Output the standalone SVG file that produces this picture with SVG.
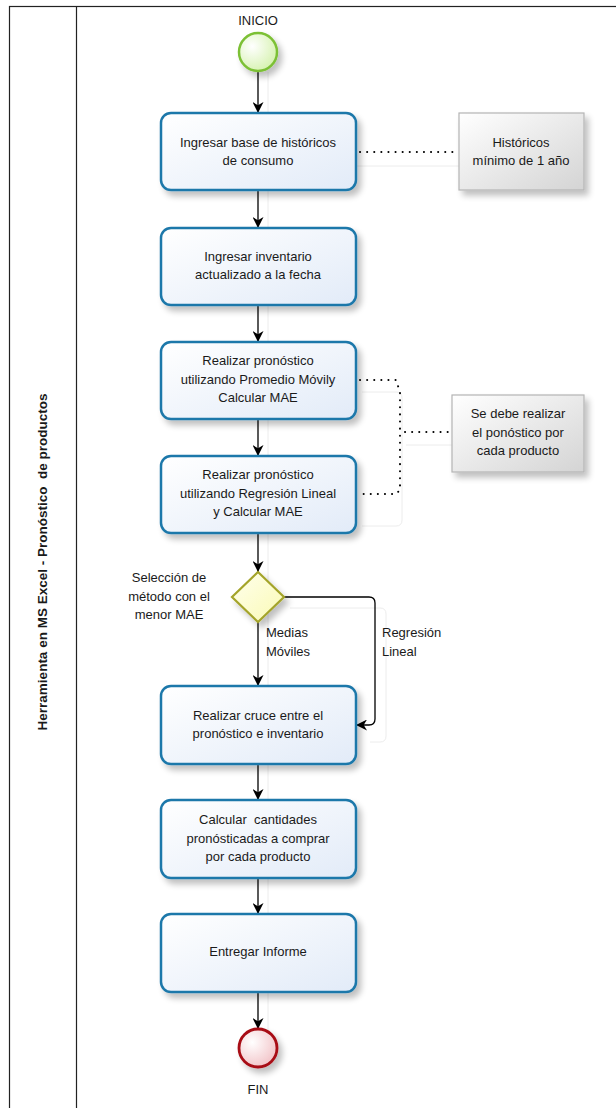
<svg xmlns="http://www.w3.org/2000/svg" width="616" height="1108" viewBox="0 0 616 1108">
  <defs>
    <linearGradient id="taskFill" x1="0" y1="0" x2="1" y2="1">
      <stop offset="0" stop-color="#ffffff"/>
      <stop offset="1" stop-color="#e2ebf8"/>
    </linearGradient>
    <linearGradient id="noteFill" x1="0" y1="0" x2="1" y2="1">
      <stop offset="0" stop-color="#ffffff"/>
      <stop offset="1" stop-color="#d4d4d4"/>
    </linearGradient>
    <radialGradient id="startFill" cx="0.35" cy="0.35" r="0.7">
      <stop offset="0" stop-color="#ffffff"/>
      <stop offset="1" stop-color="#d6f2b0"/>
    </radialGradient>
    <radialGradient id="endFill" cx="0.35" cy="0.35" r="0.7">
      <stop offset="0" stop-color="#ffffff"/>
      <stop offset="1" stop-color="#f2c4c8"/>
    </radialGradient>
    <linearGradient id="gateFill" x1="0" y1="0" x2="1" y2="1">
      <stop offset="0" stop-color="#ffffee"/>
      <stop offset="1" stop-color="#fafab4"/>
    </linearGradient>
    <filter id="shadow" x="-20%" y="-20%" width="150%" height="160%">
      <feGaussianBlur in="SourceAlpha" stdDeviation="3"/>
      <feOffset dx="4" dy="5" result="b"/>
      <feComponentTransfer><feFuncA type="linear" slope="0.25"/></feComponentTransfer>
      <feMerge><feMergeNode/><feMergeNode in="SourceGraphic"/></feMerge>
    </filter>
    <marker id="arrow" viewBox="0 0 10 10" refX="10" refY="5" markerWidth="11" markerHeight="11" markerUnits="userSpaceOnUse" orient="auto">
      <path d="M0,0 L10,5 L0,10 L3,5 Z" fill="#000"/>
    </marker>
  </defs>
  <style>
    .lbl { font-family: "Liberation Sans", Arial, sans-serif; font-size: 13px; fill: #1a1a1a; text-anchor: middle; white-space: pre; }
    .lft { text-anchor: start; }
    .task { fill: url(#taskFill); stroke: #1f78aa; stroke-width: 2.5; filter: url(#shadow); }
    .note { fill: url(#noteFill); stroke: #b4b4b4; stroke-width: 1.2; filter: url(#shadow); }
    .flow { fill: none; stroke: #000; stroke-width: 1.3; marker-end: url(#arrow); }
    .assoc { fill: none; stroke: #000; stroke-width: 2; stroke-dasharray: 0.1 7; stroke-linecap: round; }
    .ghost { fill: none; stroke: #ececec; stroke-width: 1; }
  </style>

  <!-- pool and lane -->
  <g id="pool">
    <rect x="9.5" y="6.5" width="700" height="1200" fill="#fff" stroke="#222" stroke-width="1.2"/>
    <line x1="76.5" y1="6.5" x2="76.5" y2="1108" stroke="#222" stroke-width="1.2"/>
    <text class="lbl" xml:space="preserve" transform="translate(47,562) rotate(-90)" style="font-weight:bold;font-size:13.5px">Herramienta en MS Excel - Pronóstico  de productos</text>
  </g>

  <!-- faint guide lines -->
  <g id="guides">
    <line class="ghost" x1="268" y1="72" x2="268" y2="1030"/>
    <path class="ghost" d="M356,166 H459"/>
    <path class="ghost" d="M362,392 H396 Q402,392 402,398 V520 Q402,526 396,526 H362"/>
    <path class="ghost" d="M406,445 H452"/>
    <path class="ghost" d="M290,608 H380 Q386,608 386,614 V736 Q386,742 380,742 H370"/>
  </g>

  <!-- connectors -->
  <g id="connectors">
    <line class="flow" x1="258" y1="71" x2="258" y2="113"/>
    <line class="flow" x1="258" y1="190" x2="258" y2="228"/>
    <line class="flow" x1="258" y1="305" x2="258" y2="342"/>
    <line class="flow" x1="258" y1="419" x2="258" y2="456"/>
    <line class="flow" x1="258" y1="533" x2="258" y2="572"/>
    <line class="flow" x1="258" y1="622" x2="258" y2="686"/>
    <path class="flow" d="M284,597 H369 Q375,597 375,603 V719 Q375,725 369,725 H356"/>
    <line class="flow" x1="258" y1="764" x2="258" y2="800"/>
    <line class="flow" x1="258" y1="878" x2="258" y2="914"/>
    <line class="flow" x1="258" y1="992" x2="258" y2="1029"/>
    <path class="assoc" d="M360,152 H455"/>
    <path class="assoc" d="M360,380 H396 L400,392 V490 L396,494 H360"/>
    <path class="assoc" d="M405,432 H450"/>
    <text class="lbl lft" x="266" y="637">Medias</text>
    <text class="lbl lft" x="266" y="656">Móviles</text>
    <text class="lbl lft" x="382" y="637">Regresión</text>
    <text class="lbl lft" x="382" y="656">Lineal</text>
  </g>

  <g id="start">
    <text class="lbl" x="258" y="25">INICIO</text>
    <circle cx="258" cy="52" r="19" fill="url(#startFill)" stroke="#7cc035" stroke-width="2.5" filter="url(#shadow)"/>
  </g>

  <g id="task-historicos">
    <rect class="task" x="161" y="113" width="195" height="77" rx="10"/>
    <text class="lbl" x="258" y="147">Ingresar base de históricos</text>
    <text class="lbl" x="258" y="165">de consumo</text>
  </g>

  <g id="note-historicos">
    <rect class="note" x="459" y="113" width="125" height="77"/>
    <text class="lbl" x="521" y="147">Históricos</text>
    <text class="lbl" x="521" y="165">mínimo de 1 año</text>
  </g>

  <g id="task-inventario">
    <rect class="task" x="161" y="228" width="195" height="77" rx="10"/>
    <text class="lbl" x="258" y="261">Ingresar inventario</text>
    <text class="lbl" x="258" y="279">actualizado a la fecha</text>
  </g>

  <g id="task-promedio">
    <rect class="task" x="161" y="342" width="195" height="77" rx="10"/>
    <text class="lbl" x="258" y="365">Realizar pronóstico</text>
    <text class="lbl" x="258" y="384">utilizando Promedio Móvily</text>
    <text class="lbl" x="258" y="402">Calcular MAE</text>
  </g>

  <g id="task-regresion">
    <rect class="task" x="161" y="456" width="195" height="77" rx="10"/>
    <text class="lbl" x="258" y="479">Realizar pronóstico</text>
    <text class="lbl" x="258" y="498">utilizando Regresión Lineal</text>
    <text class="lbl" x="258" y="516">y Calcular MAE</text>
  </g>

  <g id="note-producto">
    <rect class="note" x="452" y="395" width="132" height="77"/>
    <text class="lbl" x="518" y="418">Se debe realizar</text>
    <text class="lbl" x="518" y="437">el ponóstico por</text>
    <text class="lbl" x="518" y="455">cada producto</text>
  </g>

  <g id="gateway">
    <path d="M258,572 L284,597 L258,622 L232,597 Z" fill="url(#gateFill)" stroke="#a4a42a" stroke-width="2.2" filter="url(#shadow)"/>
    <text class="lbl" x="169" y="582">Selección de</text>
    <text class="lbl" x="169" y="601">método con el</text>
    <text class="lbl" x="169" y="619">menor MAE</text>
  </g>

  <g id="task-cruce">
    <rect class="task" x="161" y="686" width="195" height="78" rx="10"/>
    <text class="lbl" x="258" y="720">Realizar cruce entre el</text>
    <text class="lbl" x="258" y="738">pronóstico e inventario</text>
  </g>

  <g id="task-cantidades">
    <rect class="task" x="161" y="800" width="195" height="78" rx="10"/>
    <text class="lbl" xml:space="preserve" x="258" y="824">Calcular  cantidades</text>
    <text class="lbl" x="258" y="843">pronósticadas a comprar</text>
    <text class="lbl" x="258" y="861">por cada producto</text>
  </g>

  <g id="task-informe">
    <rect class="task" x="161" y="914" width="195" height="78" rx="10"/>
    <text class="lbl" x="258" y="956">Entregar Informe</text>
  </g>

  <g id="end">
    <circle cx="258" cy="1048" r="19" fill="url(#endFill)" stroke="#a80c14" stroke-width="2.8" filter="url(#shadow)"/>
    <text class="lbl" x="258" y="1094">FIN</text>
  </g>
</svg>
